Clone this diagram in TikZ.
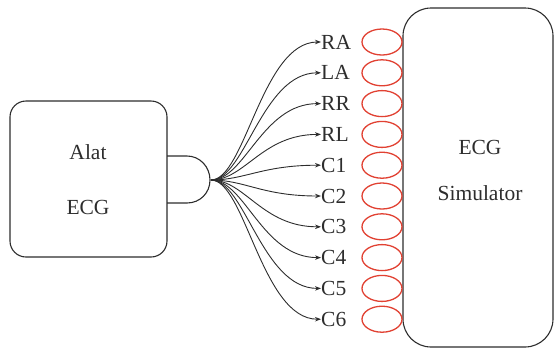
\documentclass[tikz,border=0pt]{standalone}
\usepackage{fontspec}
\setmainfont{Liberation Serif}
\usetikzlibrary{arrows.meta,shapes.geometric}
\definecolor{ink}{RGB}{45,45,45}
\definecolor{elred}{RGB}{225,65,50}
\tikzset{
  devbox/.style={draw=ink, line width=1.1pt, rounded corners=16pt},
  elec/.style={draw=elred, line width=1.3pt, ellipse, minimum width=40pt, minimum height=26pt, inner sep=0pt},
  lead/.style={draw=ink, line width=0.9pt, -{Stealth[length=6pt,width=4.5pt]}},
  lbl/.style={anchor=west, text=ink, font=\rmfamily\fontsize{21.5}{24}\selectfont, inner sep=0pt},
  btxt/.style={text=ink, font=\rmfamily\fontsize{21.5}{24}\selectfont, align=center}
}
\begin{document}
\begin{tikzpicture}[x=1pt,y=-1pt]
\useasboundingbox (0,0) rectangle (554,349);
% left device
\node[devbox, minimum width=157pt, minimum height=156pt] (alat) at (88.5,179) {};
\node[btxt] (alatT) at (88,152) {Alat};
\node[btxt] (alatE) at (88,207) {ECG};
% connector plug
\coordinate (tip) at (211,180);
\draw[draw=ink, line width=1.1pt] (167,156) -- (187,156) .. controls (200,156) and (210,167) .. (210,180)
  .. controls (210,193) and (200,203) .. (187,203) -- (167,203);
% right device
\node[devbox, rounded corners=28pt, minimum width=150pt, minimum height=339pt] (sim) at (478,177.5) {};
\node[btxt] (simE) at (480,147) {ECG};
\node[btxt] (simS) at (480,193) {Simulator};
% leads
\foreach \n [count=\i from 0] in {RA,LA,RR,RL,C1,C2,C3,C4,C5,C6}{
  \pgfmathsetmacro{\yy}{42+30.8*\i}
  \node[lbl] (l\n) at (321,\yy) {\n};
  \node[elec] (e\n) at (382,\yy) {};
  \draw[lead] (tip) .. controls (245,180) and (262,\yy) .. (l\n.west);
}
\end{tikzpicture}
\end{document}
